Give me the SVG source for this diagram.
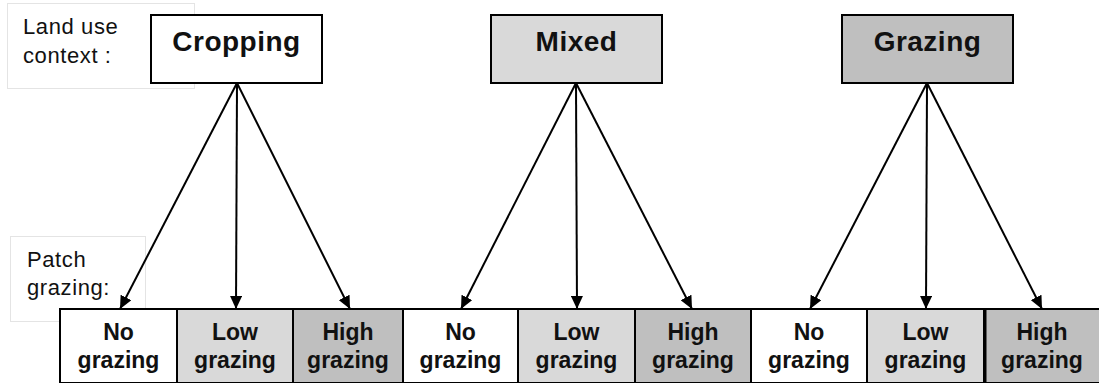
<svg xmlns="http://www.w3.org/2000/svg" width="1099" height="383" viewBox="0 0 1099 383">
<defs>
<marker id="ah" viewBox="0 0 13 12" refX="13" refY="6" markerWidth="13" markerHeight="12" markerUnits="userSpaceOnUse" orient="auto">
<path d="M0,0 L13,6 L0,12 Z" fill="#000"/>
</marker>
</defs>
<style>
.lbl{fill:#fff;stroke:#e4e4e4;stroke-width:1}
.lt{font-family:"Liberation Sans",Arial,sans-serif;font-size:22px;fill:#111;letter-spacing:0.6px}
.top{stroke:#000;stroke-width:2}
.tt{font-family:"Liberation Sans",Arial,sans-serif;font-size:28px;font-weight:bold;fill:#111;text-anchor:middle;letter-spacing:0.5px}
.cell{stroke:#000;stroke-width:2}
.ct{font-family:"Liberation Sans",Arial,sans-serif;font-size:23px;font-weight:bold;fill:#111;text-anchor:middle}
.w{fill:#fff}.l{fill:#d9d9d9}.d{fill:#bfbfbf}
.con line{stroke:#000;stroke-width:2;marker-end:url(#ah)}
</style>
<rect width="1099" height="383" fill="#fff"/>
<g id="label-land-use">
<rect class="lbl" x="7.5" y="3.5" width="187" height="85"/>
<text class="lt" x="23" y="34">Land use</text>
<text class="lt" x="23" y="63">context :</text>
</g>
<g id="label-patch">
<rect class="lbl" x="10.5" y="236.5" width="135" height="85"/>
<text class="lt" x="27" y="267">Patch</text>
<text class="lt" x="27" y="295">grazing:</text>
</g>
<g id="cropping"><rect class="top w" x="151" y="15" width="171" height="68"/><text class="tt" x="236.5" y="51">Cropping</text></g>
<g id="mixed"><rect class="top l" x="491" y="15" width="171" height="68"/><text class="tt" x="576.5" y="51">Mixed</text></g>
<g id="grazing"><rect class="top d" x="842" y="15" width="171" height="68"/><text class="tt" x="927.5" y="51">Grazing</text></g>
<g id="connectors" class="con">
<line x1="237" y1="83" x2="120" y2="309"/>
<line x1="237" y1="83" x2="236" y2="309"/>
<line x1="237" y1="83" x2="350" y2="309"/>
<line x1="576" y1="83" x2="461" y2="309"/>
<line x1="576" y1="83" x2="577" y2="309"/>
<line x1="576" y1="83" x2="692" y2="309"/>
<line x1="927" y1="83" x2="810" y2="309"/>
<line x1="927" y1="83" x2="926" y2="309"/>
<line x1="927" y1="83" x2="1042" y2="309"/>
</g>
<g id="c-no-1"><rect class="cell w" x="60" y="309" width="117" height="74"/><text class="ct" x="118.5" y="340">No</text><text class="ct" x="118.5" y="368">grazing</text></g>
<g id="c-low-1"><rect class="cell l" x="177" y="309" width="116" height="74"/><text class="ct" x="235" y="340">Low</text><text class="ct" x="235" y="368">grazing</text></g>
<g id="c-high-1"><rect class="cell d" x="293" y="309" width="110" height="74"/><text class="ct" x="348" y="340">High</text><text class="ct" x="348" y="368">grazing</text></g>
<g id="c-no-2"><rect class="cell w" x="403" y="309" width="115" height="74"/><text class="ct" x="460.5" y="340">No</text><text class="ct" x="460.5" y="368">grazing</text></g>
<g id="c-low-2"><rect class="cell l" x="518" y="309" width="117" height="74"/><text class="ct" x="576.5" y="340">Low</text><text class="ct" x="576.5" y="368">grazing</text></g>
<g id="c-high-2"><rect class="cell d" x="635" y="309" width="116" height="74"/><text class="ct" x="693" y="340">High</text><text class="ct" x="693" y="368">grazing</text></g>
<g id="c-no-3"><rect class="cell w" x="751" y="309" width="116" height="74"/><text class="ct" x="809" y="340">No</text><text class="ct" x="809" y="368">grazing</text></g>
<g id="c-low-3"><rect class="cell l" x="867" y="309" width="117" height="74"/><text class="ct" x="925.5" y="340">Low</text><text class="ct" x="925.5" y="368">grazing</text></g>
<g id="c-high-3"><rect class="cell d" x="984" y="309" width="120" height="74"/><line x1="985" y1="309" x2="985" y2="383" stroke="#000" stroke-width="3"/><text class="ct" x="1042" y="340">High</text><text class="ct" x="1042" y="368">grazing</text></g>
</svg>
